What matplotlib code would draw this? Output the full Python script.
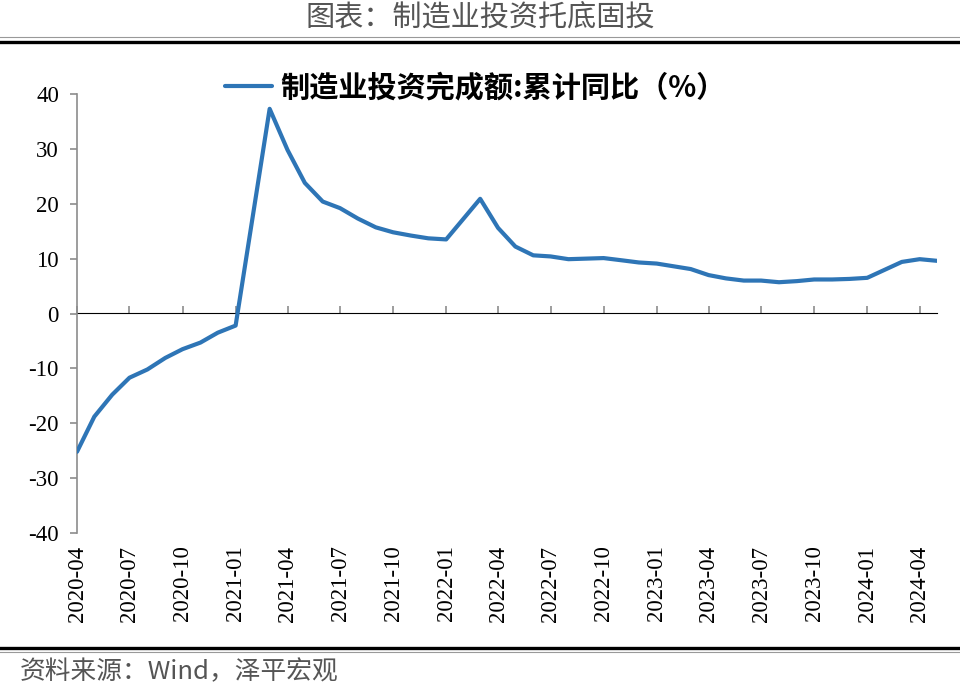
import numpy as np
import pandas as pd
import matplotlib
matplotlib.use('Agg')
import matplotlib.pyplot as plt
import matplotlib.dates as mdates
from matplotlib.lines import Line2D

# monthly points as placed on the chart (no January/February gap values)
months = ['2020-04', '2020-05', '2020-06', '2020-07', '2020-08', '2020-09',
          '2020-10', '2020-11', '2020-12', '2021-01',
          '2021-03', '2021-04', '2021-05', '2021-06', '2021-07', '2021-08',
          '2021-09', '2021-10', '2021-11', '2021-12', '2022-01',
          '2022-03', '2022-04', '2022-05', '2022-06', '2022-07', '2022-08',
          '2022-09', '2022-10', '2022-11', '2022-12', '2023-01',
          '2023-03', '2023-04', '2023-05', '2023-06', '2023-07', '2023-08',
          '2023-09', '2023-10', '2023-11', '2023-12', '2024-01',
          '2024-03', '2024-04', '2024-05']
mfg_yoy = [-25.2, -18.8, -14.8, -11.7, -10.2, -8.1,
           -6.5, -5.3, -3.5, -2.2,
           37.3, 29.8, 23.8, 20.4, 19.2, 17.3,
           15.7, 14.8, 14.2, 13.7, 13.5,
           20.9, 15.6, 12.2, 10.6, 10.4, 9.9,
           10.0, 10.1, 9.7, 9.3, 9.1,
           8.1, 7.0, 6.4, 6.0, 6.0, 5.7,
           5.9, 6.2, 6.2, 6.3, 6.5,
           9.4, 9.9, 9.6]
y_ticks = [-40, -30, -20, -10, 0, 10, 20, 30, 40]

title = '图表：制造业投资托底固投'
series_name = '制造业投资完成额:累计同比（%）'
source = '资料来源：Wind，泽平宏观'

cjk = ['Noto Sans CJK SC', 'DejaVu Sans']
serif = 'Liberation Serif'
blue = '#2E75B6'
grey = '#8C8C8C'

dates = pd.to_datetime(months)

fig = plt.figure(figsize=(9.6, 6.9), dpi=100)
ax = fig.add_axes([77/960, 1-533/690, (937-77)/960, (533-94)/690])

line, = ax.plot(dates, mfg_yoy, color=blue, lw=3.0, solid_joinstyle='round',
                solid_capstyle='round', zorder=3)

ax.set_ylim(y_ticks[0], y_ticks[-1])
ax.set_xlim(dates[0], dates[-1])
ax.set_yticks(y_ticks)
ax.set_yticklabels([str(v) for v in y_ticks], fontfamily=serif, fontsize=16.5)

for s in ['top', 'right', 'bottom']:
  ax.spines[s].set_visible(False)
ax.spines['left'].set_color(grey)
ax.spines['left'].set_linewidth(1.2)
ax.tick_params(axis='y', direction='out', length=5, width=1.2, color=grey,
               pad=8, labelcolor='black')

locator = mdates.MonthLocator(bymonth=(1, 4, 7, 10))
ax.xaxis.set_major_locator(locator)
ax.xaxis.set_major_formatter(mdates.DateFormatter('%Y-%m'))
ax.tick_params(axis='x', length=0, pad=9)
for lab in ax.get_xticklabels():
  lab.set_rotation(90)
  lab.set_fontfamily(serif)
  lab.set_fontsize(16.5)

# zero line carrying the tick marks, labels stay at the bottom
zero_frac = (0 - y_ticks[0]) / (y_ticks[-1] - y_ticks[0])
sec = ax.secondary_xaxis(zero_frac)
sec.xaxis.set_major_locator(mdates.MonthLocator(bymonth=(1, 4, 7, 10)))
sec.xaxis.set_major_formatter(plt.NullFormatter())
sec.spines['bottom'].set_color(grey)
sec.spines['bottom'].set_linewidth(1.2)
sec.tick_params(axis='x', direction='out', length=5, width=1.2, color=grey)
sec.set_zorder(1)
ax.set_zorder(2)
ax.patch.set_visible(False)

fig.legend([line], [series_name], loc='center left',
           bbox_to_anchor=(225/960, 1-87/690), frameon=False,
           borderpad=0, borderaxespad=0, handlelength=1.6, handletextpad=0.3,
           prop={'family': cjk, 'weight': 'bold', 'size': 21})

fig.text(0.5, 1-18/690, title, ha='center', va='center', fontsize=21,
         color='#555555', family=cjk, weight='light')
fig.text(20/960, 1-672/690, source, ha='left', va='center', fontsize=18.5,
         color='#555555', family=cjk, weight='light')

# thin + thick rules above and below the chart
fig.add_artist(Line2D([0, 1], [1-37/690]*2, color='#999999', lw=0.8))
fig.add_artist(Line2D([0, 1], [1-41.5/690]*2, color='black', lw=2.4))
fig.add_artist(Line2D([0, 1], [1-648/690]*2, color='black', lw=2.4))
fig.add_artist(Line2D([0, 1], [1-652/690]*2, color='#999999', lw=0.8))

fig.savefig('out.png', dpi=100)
